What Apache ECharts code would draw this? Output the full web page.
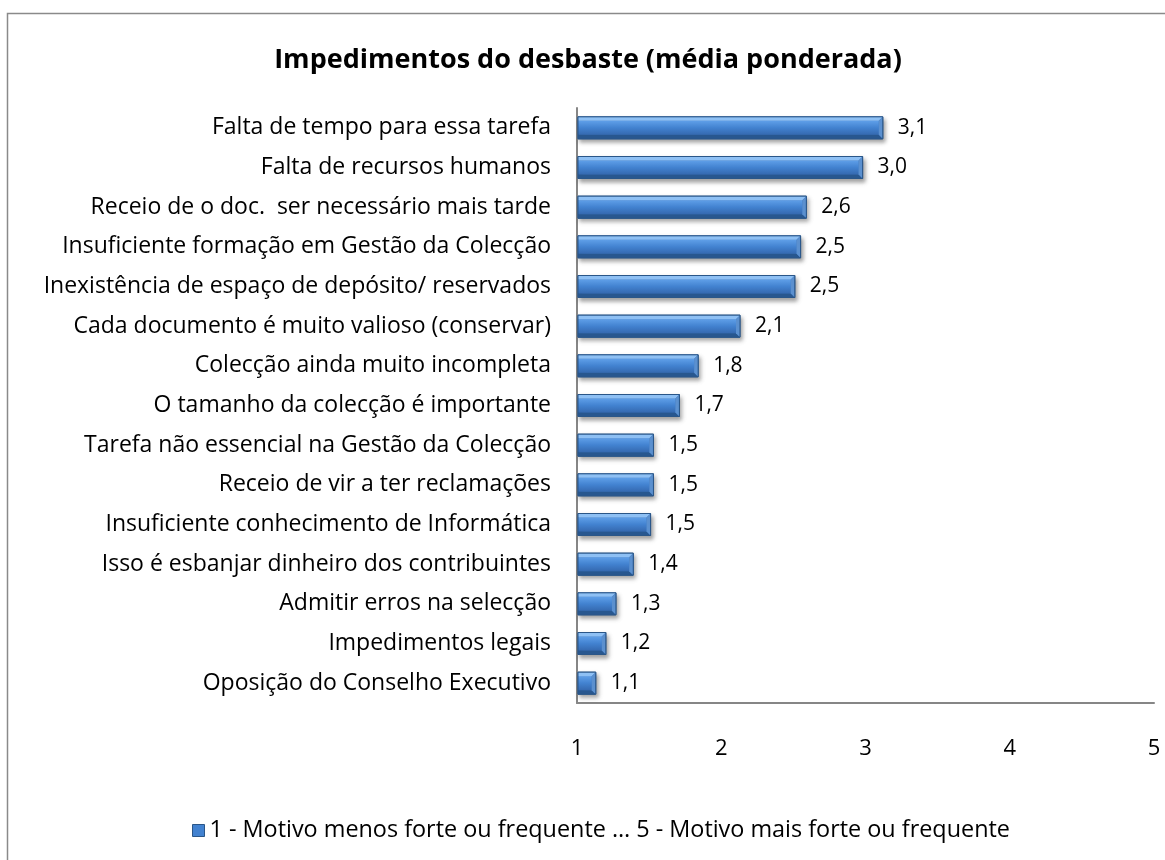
<!DOCTYPE html>
<html>
<head>
<meta charset="utf-8">
<script src="https://cdn.jsdelivr.net/npm/echarts@6/dist/echarts.min.js"></script>
<style>
	html, body {margin: 0; padding: 0; background: #fff;}
	#main {width: 1165px; height: 860px;}
</style>
</head>
<body>
<div id="main"></div>
<script>
	// categories, top to bottom as shown in the picture
	const motivos = [
		'Falta de tempo para essa tarefa',
		'Falta de recursos humanos',
		'Receio de o doc.  ser necessário mais tarde',
		'Insuficiente formação em Gestão da Colecção',
		'Inexistência de espaço de depósito/ reservados',
		'Cada documento é muito valioso (conservar)',
		'Colecção ainda muito incompleta',
		'O tamanho da colecção é importante',
		'Tarefa não essencial na Gestão da Colecção',
		'Receio de vir a ter reclamações',
		'Insuficiente conhecimento de Informática',
		'Isso é esbanjar dinheiro dos contribuintes',
		'Admitir erros na selecção',
		'Impedimentos legais',
		'Oposição do Conselho Executivo'
	];
	const mediaPonderada = [3.12, 2.98, 2.59, 2.55, 2.51, 2.13, 1.84, 1.71, 1.53, 1.53, 1.51, 1.39, 1.27, 1.20, 1.13];
	const escalaTicks = [1, 2, 3, 4, 5];

	const legenda = '1 - Motivo menos forte ou frequente … 5 - Motivo mais forte ou frequente';
	const fonte = '"Open Sans", "Noto Sans", sans-serif';
	const chart = echarts.init(document.querySelector('#main'), null, {renderer: 'canvas'});

	const faceColor = () => new echarts.graphic.LinearGradient(0, 0, 0, 1, [
		{offset: 0, color: '#5f9fe8'},
		{offset: 0.5, color: '#4282d0'},
		{offset: 1, color: '#3569b0'}
	]);

	// bar with a bevelled edge, like the old office 3D bars
	const renderBar = (params, api) => {
		const idx = api.value(0);
		const val = api.value(1);
		const start = api.coord([escalaTicks[0], idx]);
		const end = api.coord([val, idx]);
		const h = 22;
		const b = 4;
		const x0 = start[0] + 1;
		const x1 = end[0];
		const y0 = end[1] - h / 2;
		const y1 = end[1] + h / 2;
		const bb = Math.min(b, (x1 - x0) / 2);

		return {
			type: 'group',
			children: [{
				type: 'rect',
				shape: {x: x0, y: y0, width: x1 - x0, height: h},
				style: {
					fill: '#3d79c4',
					stroke: '#2a5688',
					lineWidth: 1,
					shadowColor: 'rgba(0,0,0,0.35)',
					shadowBlur: 4,
					shadowOffsetX: 2,
					shadowOffsetY: 3
				}
			}, {
				type: 'rect',
				shape: {x: x0, y: y0 + b, width: x1 - x0 - bb, height: h - 2 * b},
				style: {fill: faceColor()}
			}, {
				type: 'polygon',
				shape: {points: [[x0, y0], [x1, y0], [x1 - bb, y0 + b], [x0, y0 + b]]},
				style: {fill: '#8ec0f4'}
			}, {
				type: 'polygon',
				shape: {points: [[x0, y1], [x1, y1], [x1 - bb, y1 - b], [x0, y1 - b]]},
				style: {fill: '#28578f'}
			}, {
				type: 'polygon',
				shape: {points: [[x1, y0], [x1, y1], [x1 - bb, y1 - b], [x1 - bb, y0 + b]]},
				style: {fill: '#5b90cf'}
			}, {
				type: 'rect',
				shape: {x: x0, y: y0, width: x1 - x0, height: h},
				style: {fill: 'none', stroke: '#2a5688', lineWidth: 1}
			}, {
				type: 'text',
				style: {
					x: x1 + 15,
					y: end[1],
					text: val.toFixed(1).replace('.', ','),
					verticalAlign: 'middle',
					font: '21px ' + fonte,
					fill: '#000'
				}
			}]
		};
	};

	chart.setOption({
		animation: false,
		backgroundColor: '#fff',
		graphic: [{
			type: 'rect',
			shape: {x: 7.5, y: 13.5, width: 1170, height: 870},
			style: {fill: 'none', stroke: '#8a8a8a', lineWidth: 1.5},
			silent: true
		}],
		title: {
			text: 'Impedimentos do desbaste (média ponderada)',
			left: 583,
			textAlign: 'center',
			top: 42,
			textStyle: {fontFamily: fonte, fontWeight: 'bold', fontSize: 27, color: '#000'}
		},
		legend: {
			bottom: 13,
			left: 187,
			itemWidth: 12,
			itemHeight: 12,
			itemGap: 4,
			icon: 'rect',
			itemStyle: {color: '#4282d0', borderColor: '#2a5688', borderWidth: 1},
			textStyle: {fontFamily: fonte, fontSize: 23.4, color: '#000'},
			data: [legenda]
		},
		grid: {left: 577, right: 11, top: 108, bottom: 157, containLabel: false},
		xAxis: {
			type: 'value',
			min: escalaTicks[0],
			max: escalaTicks[escalaTicks.length - 1],
			interval: 1,
			axisLine: {show: true, lineStyle: {color: '#868686', width: 2}},
			axisTick: {show: false},
			splitLine: {show: false},
			axisLabel: {
				margin: 35,
				fontFamily: fonte,
				fontSize: 22,
				color: '#000'
			}
		},
		yAxis: {
			type: 'category',
			inverse: true,
			data: motivos,
			axisLine: {show: true, lineStyle: {color: '#868686', width: 2}},
			axisTick: {show: false},
			axisLabel: {
				margin: 26,
				fontFamily: fonte,
				fontSize: 23,
				color: '#000'
			}
		},
		series: [{
			name: legenda,
			type: 'custom',
			renderItem: renderBar,
			itemStyle: {color: '#4282d0'},
			encode: {x: 1, y: 0},
			data: mediaPonderada.map((v, i) => [i, v]),
			z: 3
		}]
	});
</script>
</body>
</html>
